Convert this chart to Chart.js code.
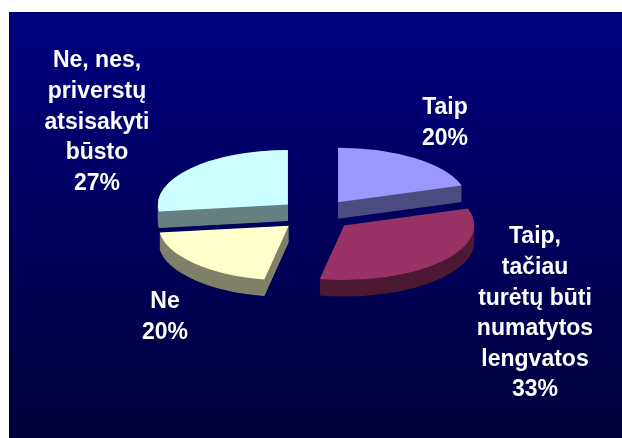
<!DOCTYPE html>
<html>
<head>
<meta charset="utf-8">
<script src="https://cdn.jsdelivr.net/npm/chart.js@4"></script>
<style>
html,body{margin:0;padding:0;background:#fff;width:622px;height:438px;overflow:hidden}
#bg{position:absolute;left:9px;top:12px;right:0;bottom:0;background:linear-gradient(#000080,#00003c)}
#wrap{position:absolute;left:0;top:0;width:622px;height:438px}
</style>
</head>
<body>
<div id="bg"></div>
<div id="wrap"><canvas id="c" width="622" height="438"></canvas></div>
<script>
const categories = ["Taip", "Taip, tačiau turėtų būti numatytos lengvatos", "Ne", "Ne, nes, priverstų atsisakyti būsto"];
const values = [20, 33, 20, 27];
const topColors = ["#9999FF", "#993366", "#FFFFCC", "#CCFFFF"];
const sideColors = ["#4D4D80", "#4D1A33", "#80806A", "#668080"];
const labelLines = [
  ["Taip", "20%"],
  ["Taip,", "tačiau", "turėtų būti", "numatytos", "lengvatos", "33%"],
  ["Ne", "20%"],
  ["Ne, nes,", "priverstų", "atsisakyti", "būsto", "27%"]
];
const labelAnchors = [[445, 108], [535, 237], [165, 302], [97, 61]];
const squash = 0.42, depth = 16.5, explode = 37.5, lineGap = 30.6;

const pie3d = {
  id: "pie3d",
  beforeDatasetsDraw(chart) {
    const ctx = chart.ctx;
    const arcs = chart.getDatasetMeta(0).data;
    const place = (el, drop) => {
      const mid = (el.startAngle + el.endAngle) / 2;
      ctx.translate(el.x, el.y + drop);
      ctx.scale(1, squash);
      ctx.translate(-el.x, -el.y);
      ctx.translate(Math.cos(mid) * explode, Math.sin(mid) * explode);
    };
    const paint = (el, colour, drop) => {
      const saved = el.options;
      el.options = Object.assign({}, saved, { backgroundColor: colour, borderWidth: 0 });
      ctx.save();
      place(el, drop);
      el.draw(ctx);
      ctx.restore();
      el.options = saved;
    };
    arcs.forEach((el, i) => {
      for (let d = depth; d > 0; d -= 0.5) paint(el, sideColors[i], d);
    });
    arcs.forEach((el, i) => paint(el, topColors[i], 0));
    return false;
  },
  afterDraw(chart) {
    const ctx = chart.ctx;
    ctx.save();
    ctx.fillStyle = "#fff";
    ctx.font = 'bold 23px "Liberation Sans", Arial, sans-serif';
    ctx.textAlign = "center";
    ctx.textBaseline = "middle";
    labelLines.forEach((lines, i) => {
      lines.forEach((t, j) => ctx.fillText(t, labelAnchors[i][0], labelAnchors[i][1] + j * lineGap));
    });
    ctx.restore();
  }
};

new Chart(document.getElementById("c"), {
  type: "pie",
  data: { labels: categories, datasets: [{ data: values, backgroundColor: topColors, borderWidth: 0 }] },
  options: {
    responsive: false,
    animation: false,
    events: [],
    layout: { padding: { left: 10, right: 0, top: 85, bottom: 93 } },
    plugins: { legend: { display: false }, title: { display: false }, tooltip: { enabled: false } }
  },
  plugins: [pie3d]
});
</script>
</body>
</html>
